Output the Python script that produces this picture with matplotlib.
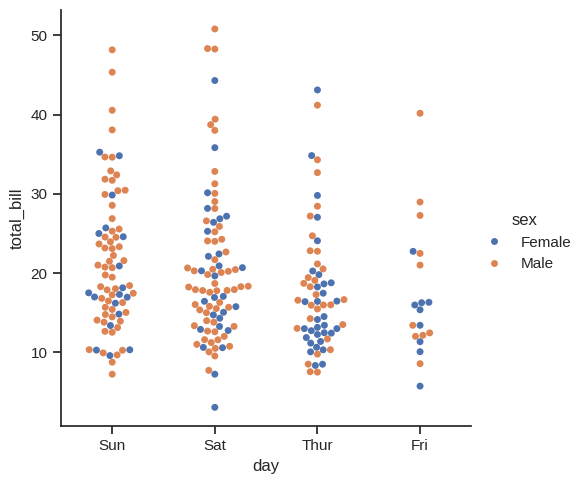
import pandas as pd
import seaborn as sns
import matplotlib
matplotlib.use("Agg")
import matplotlib.pyplot as plt

# total bill per day, split by sex
sun_female = [16.99, 24.59, 35.26, 14.83, 10.33, 16.97, 10.29, 34.81, 25.71, 17.31,
              29.85, 25.0, 13.39, 16.21, 17.51, 9.6, 20.9, 18.15]
sun_male = [10.34, 21.01, 23.68, 25.29, 8.77, 26.88, 15.04, 14.78, 10.27, 15.42,
            18.43, 21.58, 16.29, 17.46, 13.94, 9.68, 30.4, 18.29, 22.23, 32.4,
            28.55, 18.04, 12.54, 9.94, 25.56, 19.49, 38.07, 23.95, 29.93, 14.07,
            13.13, 17.26, 24.55, 19.77, 48.17, 16.49, 21.5, 12.66, 13.81, 24.52,
            20.76, 31.71, 7.25, 31.85, 16.82, 32.9, 17.89, 14.48, 34.63, 34.65,
            23.33, 45.35, 23.17, 40.55, 20.69, 30.46, 23.1, 15.69]
sat_female = [20.29, 15.77, 19.65, 15.06, 20.69, 16.93, 26.41, 16.45, 3.07, 17.07,
              26.86, 25.28, 14.73, 44.3, 22.42, 20.92, 14.31, 7.25, 10.59, 10.63,
              12.76, 13.27, 28.17, 12.9, 30.14, 22.12, 35.83, 27.18]
sat_male = [20.65, 17.92, 39.42, 19.82, 17.81, 13.37, 12.69, 21.7, 9.55, 18.35,
            17.78, 24.06, 16.31, 18.69, 31.27, 16.04, 38.01, 11.24, 48.27, 20.29,
            13.81, 11.02, 18.29, 17.59, 20.08, 20.23, 15.01, 12.02, 10.51, 17.92,
            15.36, 20.49, 25.21, 18.24, 14.0, 50.81, 15.81, 26.59, 38.73, 24.27,
            30.06, 25.89, 48.33, 28.15, 11.59, 7.74, 20.45, 13.28, 24.01, 15.69,
            11.61, 10.77, 15.53, 10.07, 12.6, 32.83, 29.03, 22.67, 17.82]
thur_female = [10.07, 34.83, 10.65, 12.43, 24.08, 13.42, 12.48, 29.8, 14.52, 11.38,
               20.27, 11.17, 12.26, 18.26, 8.51, 10.33, 14.15, 13.16, 17.47, 27.05,
               16.43, 8.35, 18.64, 11.87, 19.81, 43.11, 13.0, 12.74, 13.0, 16.4,
               16.47, 18.78]
thur_male = [27.2, 22.76, 17.29, 19.44, 16.66, 32.68, 15.98, 13.03, 18.28, 24.71,
             21.16, 11.69, 14.26, 15.95, 8.52, 22.82, 19.08, 16.0, 34.3, 41.19,
             9.78, 7.51, 28.44, 15.48, 16.58, 7.56, 10.34, 13.51, 18.71, 20.53]
fri_female = [5.75, 16.32, 22.75, 11.35, 15.38, 13.42, 15.98, 16.27, 10.09]
fri_male = [28.97, 22.49, 40.17, 27.28, 12.03, 21.01, 12.46, 12.16, 8.58, 13.42]

days = ["Sun", "Sat", "Thur", "Fri"]
sexes = ["Female", "Male"]

groups = {
    ("Sun", "Female"): sun_female, ("Sun", "Male"): sun_male,
    ("Sat", "Female"): sat_female, ("Sat", "Male"): sat_male,
    ("Thur", "Female"): thur_female, ("Thur", "Male"): thur_male,
    ("Fri", "Female"): fri_female, ("Fri", "Male"): fri_male,
}

rows = []
for (day, sex), bills in groups.items():
    for b in bills:
        rows.append({"total_bill": b, "sex": sex, "day": day})
tips = pd.DataFrame(rows)

sns.set_theme(style="ticks")
plt.rcParams['font.family'] = ['Liberation Sans', 'DejaVu Sans']

g = sns.catplot(data=tips, x="day", y="total_bill", hue="sex", kind="swarm",
                order=days, hue_order=sexes)
g.savefig("out.png", dpi=100)
